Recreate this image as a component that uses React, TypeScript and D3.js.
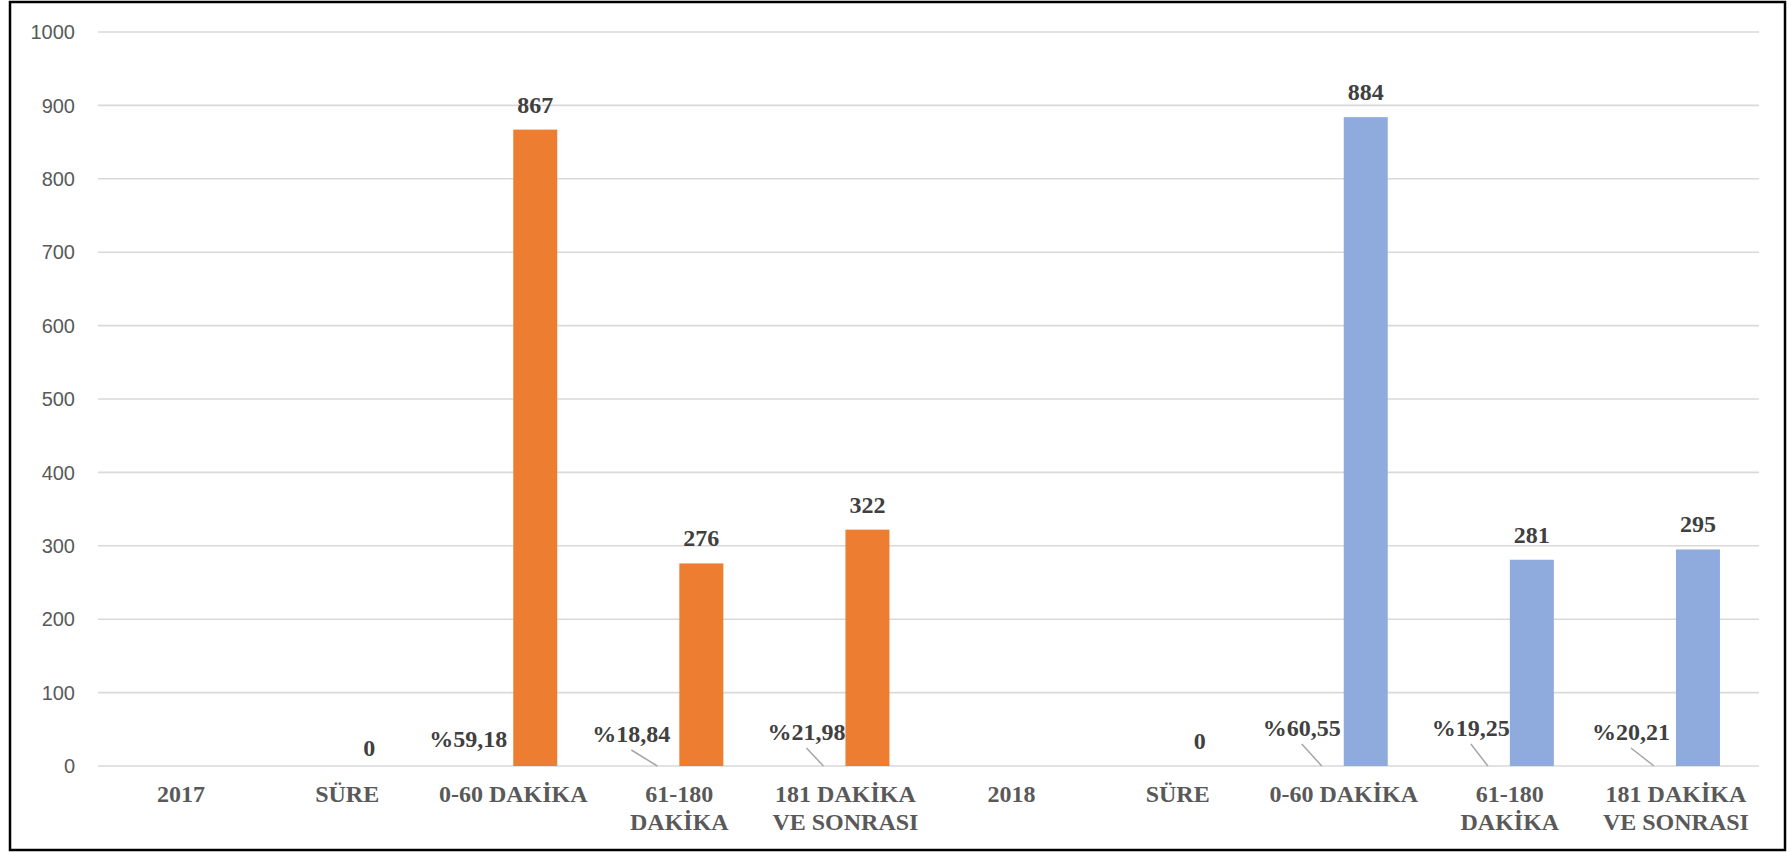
import React from "react";
import * as d3 from "d3";

// ---- data ----
const categories: string[] = [
  "2017",
  "SÜRE",
  "0-60 DAKİKA",
  "61-180\nDAKİKA",
  "181 DAKİKA\nVE SONRASI",
  "2018",
  "SÜRE",
  "0-60 DAKİKA",
  "61-180\nDAKİKA",
  "181 DAKİKA\nVE SONRASI",
];
const groupYear: string[] = ["2017", "2017", "2017", "2017", "2017", "2018", "2018", "2018", "2018", "2018"];
const countValues: (number | null)[] = [null, 0, 867, 276, 322, null, 0, 884, 281, 295];
const pctValues: (number | null)[] = [null, null, 59.18, 18.84, 21.98, null, null, 60.55, 19.25, 20.21];
const yTicks: number[] = [0, 100, 200, 300, 400, 500, 600, 700, 800, 900, 1000];

// ---- layout ----
const W = 1791;
const H = 852;
const plotLeft = 98;
const plotRight = 1759;
const plotTop = 32;
const plotBottom = 766;
const gapWidth = 1.775; // Excel-like gap width ratio
const yearColor: Record<string, string> = { "2017": "#ED7D31", "2018": "#8FAADC" };
// manual placement of the moved percentage labels (relative to their own point)
const pctLabelDx: number[] = [-23, -26, -17, -20, -17, -23];
const pctLabelDy: number[] = [-19, -24, -26, -30, -30, -26];

const serif = '"Liberation Serif", "Times New Roman", serif';
const sans = '"Liberation Sans", Arial, sans-serif';
const labelSize = 24;

export default function App() {
  const x = d3
    .scaleBand<number>()
    .domain(categories.map((_, i) => i))
    .range([plotLeft, plotRight])
    .paddingInner(0)
    .paddingOuter(0);
  const y = d3.scaleLinear().domain([0, 1000]).range([plotBottom, plotTop]);
  const band = x.bandwidth();
  const slot = band / (2 + gapWidth);
  const center = (i: number) => (x(i) as number) + band / 2;

  let pctIdx = -1;

  return (
    <svg
      width={W}
      height={H}
      style={{ position: "absolute", left: 0, top: 0, background: "#fff" }}
    >
      <rect x={0} y={0} width={W} height={H} fill="#fff" />
      {/* gridlines */}
      {yTicks.map((t) => (
        <line
          key={"g" + t}
          x1={plotLeft}
          x2={plotRight}
          y1={y(t)}
          y2={y(t)}
          stroke="#d9d9d9"
          strokeWidth={1.6}
        />
      ))}
      {/* y tick labels */}
      {yTicks.map((t) => (
        <text
          key={"t" + t}
          x={75}
          y={y(t)}
          dy="0.36em"
          textAnchor="end"
          fontFamily={sans}
          fontSize={20}
          fill="#595959"
        >
          {t}
        </text>
      ))}
      {/* bars (series 2: counts) */}
      {countValues.map((v, i) =>
        v === null || v === 0 ? null : (
          <rect
            key={"b" + i}
            x={center(i)}
            y={y(v)}
            width={slot}
            height={y(0) - y(v)}
            fill={yearColor[groupYear[i]]}
          />
        )
      )}
      {/* count labels */}
      {countValues.map((v, i) =>
        v === null ? null : (
          <text
            key={"l" + i}
            x={center(i) + slot / 2}
            y={y(v) - 17 + (v === 0 && groupYear[i] === "2017" ? 7 : 0)}
            textAnchor="middle"
            fontFamily={serif}
            fontWeight="bold"
            fontSize={labelSize}
            fill="#404040"
          >
            {v}
          </text>
        )
      )}
      {/* percentage labels with leader lines */}
      {pctValues.map((p, i) => {
        if (p === null) return null;
        pctIdx += 1;
        const k = pctIdx;
        const px = center(i) - slot / 2;
        const lx = px + pctLabelDx[k];
        const ly = y(0) + pctLabelDy[k];
        const label = "%" + d3.format(".2f")(p).replace(".", ",");
        return (
          <g key={"p" + i}>
            {pctLabelDy[k] < -22 ? (
              <line
                x1={lx}
                y1={ly + 8}
                x2={px}
                y2={y(0)}
                stroke="#a6a6a6"
                strokeWidth={1.5}
              />
            ) : null}
            <text
              x={lx}
              y={ly}
              textAnchor="middle"
              fontFamily={serif}
              fontWeight="bold"
              fontSize={labelSize}
              fill="#404040"
            >
              {label}
            </text>
          </g>
        );
      })}
      {/* x category labels */}
      {categories.map((c, i) => (
        <text
          key={"c" + i}
          x={center(i)}
          y={802}
          textAnchor="middle"
          fontFamily={serif}
          fontWeight="bold"
          fontSize={labelSize}
          fill="#595959"
        >
          {c.split("\n").map((line, j) => (
            <tspan key={j} x={center(i)} dy={j === 0 ? 0 : 28}>
              {line}
            </tspan>
          ))}
        </text>
      ))}
      {/* outer border */}
      <rect
        x={10}
        y={2}
        width={1775}
        height={848}
        fill="none"
        stroke="#000"
        strokeWidth={2.5}
      />
    </svg>
  );
}
